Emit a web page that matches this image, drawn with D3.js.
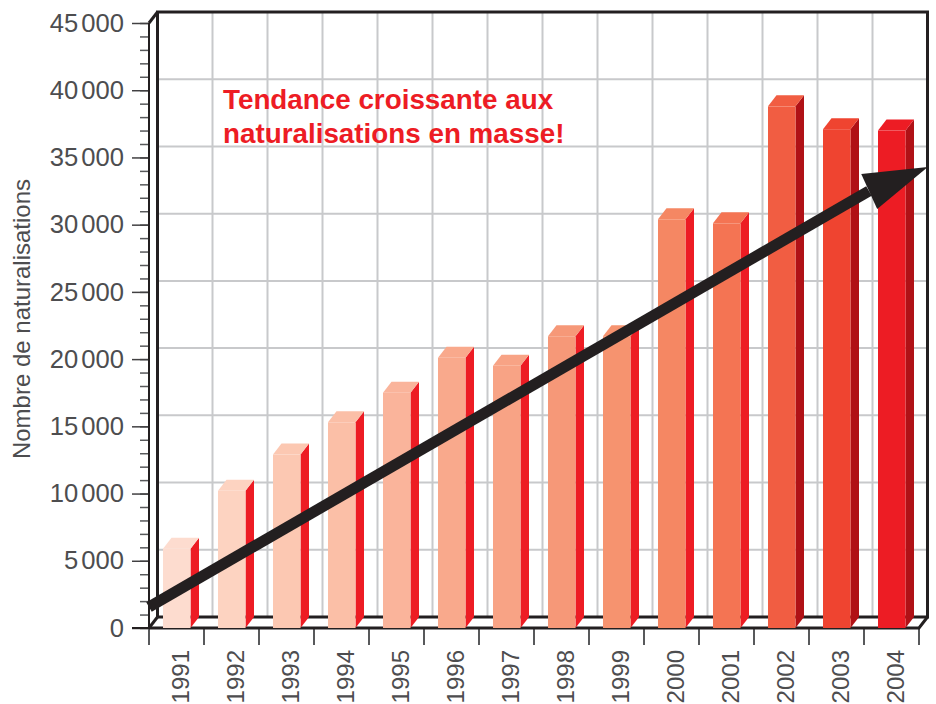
<!DOCTYPE html>
<html>
<head>
<meta charset="utf-8">
<script src="https://cdnjs.cloudflare.com/ajax/libs/d3/7.8.5/d3.min.js"></script>
<style>
html, body { margin: 0; padding: 0; background: #fff; }
svg { display: block; }
text { font-family: "Liberation Sans", sans-serif; fill: #414042; }
.domain { display: none; }
</style>
</head>
<body>
<svg id="chart" width="936" height="704"></svg>
<script>
var years = [1991, 1992, 1993, 1994, 1995, 1996, 1997, 1998, 1999, 2000, 2001, 2002, 2003, 2004];
var naturalisations = [5900, 10200, 12900, 15300, 17500, 20100, 19500, 21700, 21700, 30400, 30100, 38800, 37100, 37000];
var majorTicks = [0, 5000, 10000, 15000, 20000, 25000, 30000, 35000, 40000, 45000];
var frontColors = ['#fddccf', '#fdd3c1', '#fcc8b2', '#fbbfa7', '#fab49b', '#f9a98c', '#f8a385', '#f69878', '#f6936f', '#f58763', '#f47453', '#f15d42', '#ef4430', '#ed1c24'];
var sideColors = ['#ed1c24', '#ed1c24', '#ed1c24', '#ed1c24', '#ed1c24', '#ed1c24', '#ed1c24', '#ed1c24', '#ed1c24', '#ed1c24', '#ed1c24', '#b01116', '#b01116', '#b01116'];
var shaftYears = [1991, 2004.09];
var shaftValues = [1560, 32500];
var headYears = [2005.16, 2003.95, 2004.24];
var headValues = [34290, 33770, 31165];
var title = ['Tendance croissante aux', 'naturalisations en masse!'];

var svg = d3.select('#chart');
var depthX = 8.5, depthY = 11;
var ink = '#231f20';
var plotLeft = 149, plotRight = 919, plotTop = 23, plotBottom = 628;

var x = d3.scaleBand().domain(years).range([plotLeft, plotRight]);
var y = d3.scaleLinear().domain([0, 45000]).range([plotBottom, plotTop]);
var barInset = 14, barWidth = 27.5;
var trendX = d3.scaleLinear().domain([1991, 2005]).range([plotLeft, plotRight]);

var fmt = d3.formatLocale({ decimal: ',', thousands: ' ', grouping: [3], currency: ['', ''] }).format(',d');

// back wall grid
var grid = svg.append('g').attr('stroke', '#c8c9cb').attr('stroke-width', 2);
majorTicks.slice(1, -1).forEach(function(v) {
    grid.append('line').attr('x1', plotLeft + depthX).attr('x2', plotRight + depthX)
        .attr('y1', y(v) - depthY).attr('y2', y(v) - depthY);
});
years.slice(1).forEach(function(yr) {
    grid.append('line').attr('x1', x(yr) + depthX).attr('x2', x(yr) + depthX)
        .attr('y1', plotTop - depthY).attr('y2', plotBottom - depthY);
});

// y axis, minor then major
svg.append('g').attr('transform', 'translate(' + plotLeft + ',0)')
    .call(d3.axisLeft(y).tickValues(d3.range(0, 45001, 1000)).tickSize(9).tickFormat(''))
    .call(function(g) { g.selectAll('line').attr('stroke', '#58595b').attr('stroke-width', 1.5); });
var yAxis = svg.append('g').attr('transform', 'translate(' + plotLeft + ',0)')
    .call(d3.axisLeft(y).tickValues(majorTicks).tickSize(17).tickPadding(8).tickFormat(fmt));
yAxis.selectAll('line').attr('stroke', '#414042').attr('stroke-width', 1.5);
yAxis.selectAll('text').attr('font-size', 25.6).attr('font-family', '"Liberation Sans", sans-serif')
    .style('word-spacing', '-4px').style('fill', '#4d4d4f');

// x axis ticks and rotated labels
var xAxis = svg.append('g').attr('transform', 'translate(0,' + plotBottom + ')');
years.concat([2005]).forEach(function(yr) {
    xAxis.append('line').attr('x1', trendX(yr)).attr('x2', trendX(yr)).attr('y1', 0).attr('y2', 17)
        .attr('stroke', '#58595b').attr('stroke-width', 2);
});
years.forEach(function(yr) {
    svg.append('text').text(yr)
        .attr('transform', 'translate(' + (x(yr) + 40) + ',650) rotate(-90)')
        .attr('text-anchor', 'end')
        .attr('font-size', 24)
        .style('fill', '#4d4d4f');
});

// frame
var frame = svg.append('g').attr('fill', 'none').attr('stroke', ink).attr('stroke-width', 3);
frame.append('path').attr('d', d3.line()([
    [plotLeft + depthX, plotBottom - depthY], [plotLeft + depthX, plotTop - depthY], [plotRight + depthX, plotTop - depthY], [plotRight + depthX, plotBottom - depthY], [plotLeft + depthX, plotBottom - depthY]
]));
frame.append('path').attr('d', d3.line()([[plotLeft, plotBottom], [plotRight, plotBottom], [plotRight + depthX, plotBottom - depthY]]));
frame.append('path').attr('d', d3.line()([[plotLeft, plotBottom], [plotLeft + depthX, plotBottom - depthY]]));
frame.append('path').attr('d', d3.line()([[plotLeft, plotTop], [plotLeft + depthX, plotTop - depthY]]));
frame.append('line').attr('x1', plotLeft).attr('x2', plotLeft).attr('y1', plotTop).attr('y2', plotBottom).attr('stroke-width', 2);
svg.append('line').attr('x1', plotLeft - 17).attr('x2', plotLeft).attr('y1', plotBottom).attr('y2', plotBottom).attr('stroke', ink).attr('stroke-width', 2);

// bars
var bars = svg.append('g').selectAll('g').data(years).join('g');
bars.append('path')
    .attr('fill', function(d, i) { return sideColors[i]; })
    .attr('d', function(d, i) {
        var r = x(d) + barInset + barWidth;
        return d3.line()([[r, plotBottom], [r + depthX, plotBottom - depthY], [r + depthX, y(naturalisations[i]) - depthY], [r, y(naturalisations[i])]]) + 'Z';
    });
bars.append('path')
    .attr('fill', function(d, i) { return frontColors[i]; })
    .attr('d', function(d, i) {
        var l = x(d) + barInset, t = y(naturalisations[i]);
        return d3.line()([[l, t], [l + depthX, t - depthY], [l + barWidth + depthX, t - depthY], [l + barWidth, t]]) + 'Z';
    });
bars.append('rect')
    .attr('x', function(d) { return x(d) + barInset; })
    .attr('y', function(d, i) { return y(naturalisations[i]); })
    .attr('width', barWidth)
    .attr('height', function(d, i) { return plotBottom - y(naturalisations[i]); })
    .attr('fill', function(d, i) { return frontColors[i]; });

// trend arrow
svg.append('line')
    .attr('x1', trendX(shaftYears[0])).attr('y1', y(shaftValues[0]))
    .attr('x2', trendX(shaftYears[1])).attr('y2', y(shaftValues[1]))
    .attr('stroke', ink).attr('stroke-width', 11);
svg.append('path').attr('fill', ink)
    .attr('d', d3.line()(headYears.map(function(yr, i) { return [trendX(yr), y(headValues[i])]; })) + 'Z');

// annotation and y title
svg.append('g').selectAll('text').data(title).join('text')
    .attr('x', 223).attr('y', function(d, i) { return 109 + i * 34; })
    .attr('font-size', 27.8).attr('font-weight', 700).style('fill', '#ed1c24')
    .text(function(d) { return d; });
svg.append('text').text('Nombre de naturalisations')
    .attr('transform', 'translate(30,319) rotate(-90)')
    .attr('text-anchor', 'middle')
    .attr('font-size', 24)
    .style('fill', '#4d4d4f');
</script>
</body>
</html>
